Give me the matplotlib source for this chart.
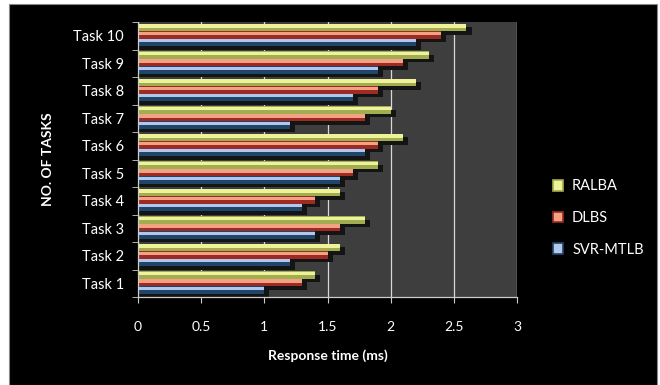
import matplotlib.pyplot as plt
from matplotlib.patches import Rectangle, Patch

tasks = ['Task 1', 'Task 2', 'Task 3', 'Task 4', 'Task 5',
         'Task 6', 'Task 7', 'Task 8', 'Task 9', 'Task 10']
ralba = [1.4, 1.6, 1.8, 1.6, 1.9, 2.1, 2.0, 2.2, 2.3, 2.6]
dlbs = [1.3, 1.5, 1.6, 1.4, 1.7, 1.9, 1.8, 1.9, 2.1, 2.4]
svr_mtlb = [1.0, 1.2, 1.4, 1.3, 1.6, 1.8, 1.2, 1.7, 1.9, 2.2]
x_ticks = [0, 0.5, 1, 1.5, 2, 2.5, 3]

plt.rcParams['font.family'] = ['Lato', 'DejaVu Sans']

# name, values, light top colour, dark lower colour
series = [
    ('RALBA', ralba, '#eef39a', '#a2ac50'),
    ('DLBS', dlbs, '#f2a283', '#9c2b23'),
    ('SVR-MTLB', svr_mtlb, '#b3c6ee', '#1f4669'),
]

fig = plt.figure(figsize=(6.6, 3.85), dpi=100, facecolor='white')
# black chart frame inside the white page border
fig.patches.append(Rectangle((9 / 660, 0), 648 / 660, 381 / 385,
                             transform=fig.transFigure, facecolor='black',
                             edgecolor='#888888', lw=0.8, zorder=-1))

ax = fig.add_axes([138 / 660, 1 - 297 / 385, 379 / 660, 275 / 385])
ax.set_facecolor('#3e3e3e')

bh = 0.27
for k, (name, vals, light, dark) in enumerate(series):
    for i, v in enumerate(vals):
        y0 = i + 0.43 - (k + 1) * bh
        # soft drop shadow below and right of each bar
        ax.barh(y0 - 0.12, v + 0.04, height=bh, align='edge',
                color='#141414', zorder=2)
        ax.barh(y0, v, height=bh, align='edge', color=dark, zorder=3)
        ax.barh(y0 + bh * 0.5, v, height=bh * 0.45, align='edge',
                color=light, zorder=4)

ax.set_xlim(0, 3)
ax.set_ylim(-0.5, 9.5)
ax.set_xticks(x_ticks)
ax.set_xticklabels([f'{t:g}' for t in x_ticks], color='white', fontsize=10)
ax.set_yticks(range(len(tasks)))
ax.set_yticklabels(tasks, color='white', fontsize=10.5)
ax.tick_params(axis='y', length=0, pad=10)
ax.tick_params(axis='x', length=4, color='#cccccc', pad=13)
ax.set_yticks([i - 0.5 for i in range(len(tasks) + 1)], minor=True)
ax.tick_params(axis='y', which='minor', length=4, color='#cccccc')

ax.grid(axis='x', color='#d8d8d8', lw=0.9, zorder=1)
ax.set_axisbelow(True)
for side in ('top', 'right'):
    ax.spines[side].set_visible(False)
for side in ('left', 'bottom'):
    ax.spines[side].set_color('#cccccc')
    ax.spines[side].set_linewidth(0.9)
    ax.spines[side].set_zorder(5)

ax.set_xlabel('Response time (ms)', color='white', fontsize=10,
              fontweight='bold', labelpad=12)
ax.set_ylabel('NO. OF TASKS', color='white', fontsize=10,
              fontweight='bold', labelpad=14)

handles = [Patch(facecolor=light, edgecolor=dark, lw=1.2, label=name)
           for name, vals, light, dark in series]
fig.legend(handles=handles, loc='center left',
           bbox_to_anchor=(540 / 660, 1 - 218 / 385), frameon=False,
           labelcolor='white', fontsize=10.5, handlelength=0.7,
           handleheight=0.7, handletextpad=0.6, labelspacing=1.2)

fig.savefig('out.png', dpi=100, facecolor=fig.get_facecolor())
